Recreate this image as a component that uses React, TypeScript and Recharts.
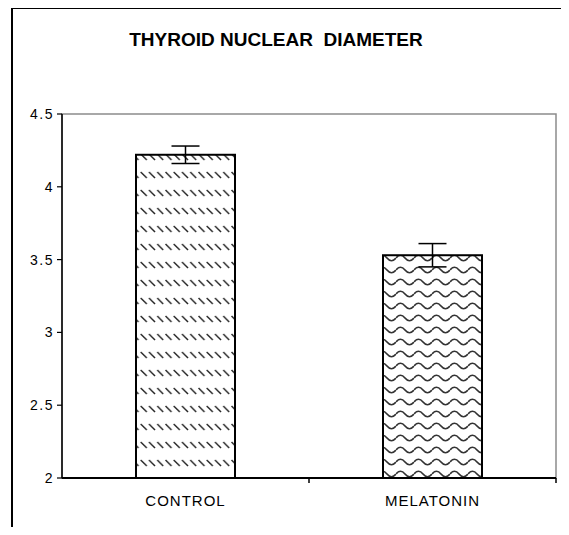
import React from 'react';
import { BarChart, Bar, XAxis, YAxis, ErrorBar, ReferenceArea } from 'recharts';

const categories = ['CONTROL', 'MELATONIN'];
const meanValues = [4.22, 3.53];
const errorValues = [0.06, 0.08];
const yTicks = [2, 2.5, 3, 3.5, 4, 4.5];
const chartTitle = 'THYROID NUCLEAR  DIAMETER';

const data = categories.map((name, i) => ({
  name,
  value: meanValues[i],
  err: errorValues[i],
  pattern: i === 0 ? 'url(#diagDash)' : 'url(#wave)',
}));

const FONT = '"Liberation Sans", Arial, sans-serif';

const XTick = (props: any) => {
  const { x, y, payload } = props;
  const off = payload && payload.offset ? payload.offset : 0;
  return (
    <g>
      <line x1={x + off} x2={x + off} y1={y} y2={y + 5} stroke="#000" strokeWidth={1.5} />
      <text x={x} y={y + 28} textAnchor="middle" fontSize={15} letterSpacing={1} fontFamily={FONT} fill="#000">
        {payload.value}
      </text>
    </g>
  );
};

const YTick = (props: any) => {
  const { x, y, payload } = props;
  return (
    <text x={x} y={y + 5} textAnchor="end" fontSize={14} letterSpacing={1.5} fontFamily={FONT} fill="#000">
      {String(payload.value)}
    </text>
  );
};

const PatternedBar = (props: any) => {
  const { x, y, width, height, payload } = props;
  return <rect x={x} y={y} width={width} height={height} fill={payload.pattern} stroke="#000" strokeWidth={2} />;
};

export default function App() {
  return (
    <div style={{ margin: -8, position: 'relative', width: 569, height: 535, overflow: 'hidden', background: '#fff' }}>
      <svg width={569} height={535} style={{ position: 'absolute', left: 0, top: 0 }}>
        <polyline points="12,540 12,8 575,8" fill="none" stroke="#000" strokeWidth={2} />
      </svg>
      <div
        style={{
          position: 'absolute',
          left: 0,
          top: 30,
          width: 552,
          textAlign: 'center',
          fontFamily: FONT,
          fontWeight: 'bold',
          fontSize: 19,
          lineHeight: '19px',
          color: '#000',
          whiteSpace: 'pre',
        }}
      >
        {chartTitle}
      </div>
      <div style={{ position: 'absolute', left: 0, top: 0 }}>
        <BarChart width={569} height={535} data={data} margin={{ top: 114, right: 13, bottom: 27, left: 0 }} barSize={99}>
          <defs>
            <pattern id="diagDash" patternUnits="userSpaceOnUse" width={8.25} height={18}>
              <rect x={0} y={0} width={8.25} height={18} fill="#fff" />
              <line x1={0.5} y1={10} x2={6.5} y2={16} stroke="#222" strokeWidth={1.4} />
            </pattern>
            <pattern id="wave" patternUnits="userSpaceOnUse" width={18} height={12}>
              <rect x={0} y={0} width={18} height={12} fill="#fff" />
              <path d="M0,6 Q4.5,0.5 9,6 T18,6" fill="none" stroke="#333" strokeWidth={1.7} />
            </pattern>
          </defs>
          <ReferenceArea y1={2} y2={4.5} fill="none" fillOpacity={0} stroke="#8c8c8c" strokeWidth={1.5} ifOverflow="visible" />
          <XAxis
            dataKey="name"
            height={30}
            tickLine={false}
            tickSize={0}
            tickMargin={0}
            tick={<XTick />}
            interval={0}
            axisLine={{ stroke: '#000', strokeWidth: 2 }}
          />
          <YAxis
            width={62}
            domain={[2, 4.5]}
            ticks={yTicks}
            interval={0}
            tickSize={5}
            tickMargin={3}
            tick={<YTick />}
            tickLine={{ stroke: '#000', strokeWidth: 1.2 }}
            axisLine={{ stroke: '#000', strokeWidth: 1.5 }}
          />
          <Bar dataKey="value" shape={<PatternedBar />} isAnimationActive={false}>
            <ErrorBar dataKey="err" width={14} stroke="#000" strokeWidth={1.5} direction="y" />
          </Bar>
        </BarChart>
      </div>
    </div>
  );
}
